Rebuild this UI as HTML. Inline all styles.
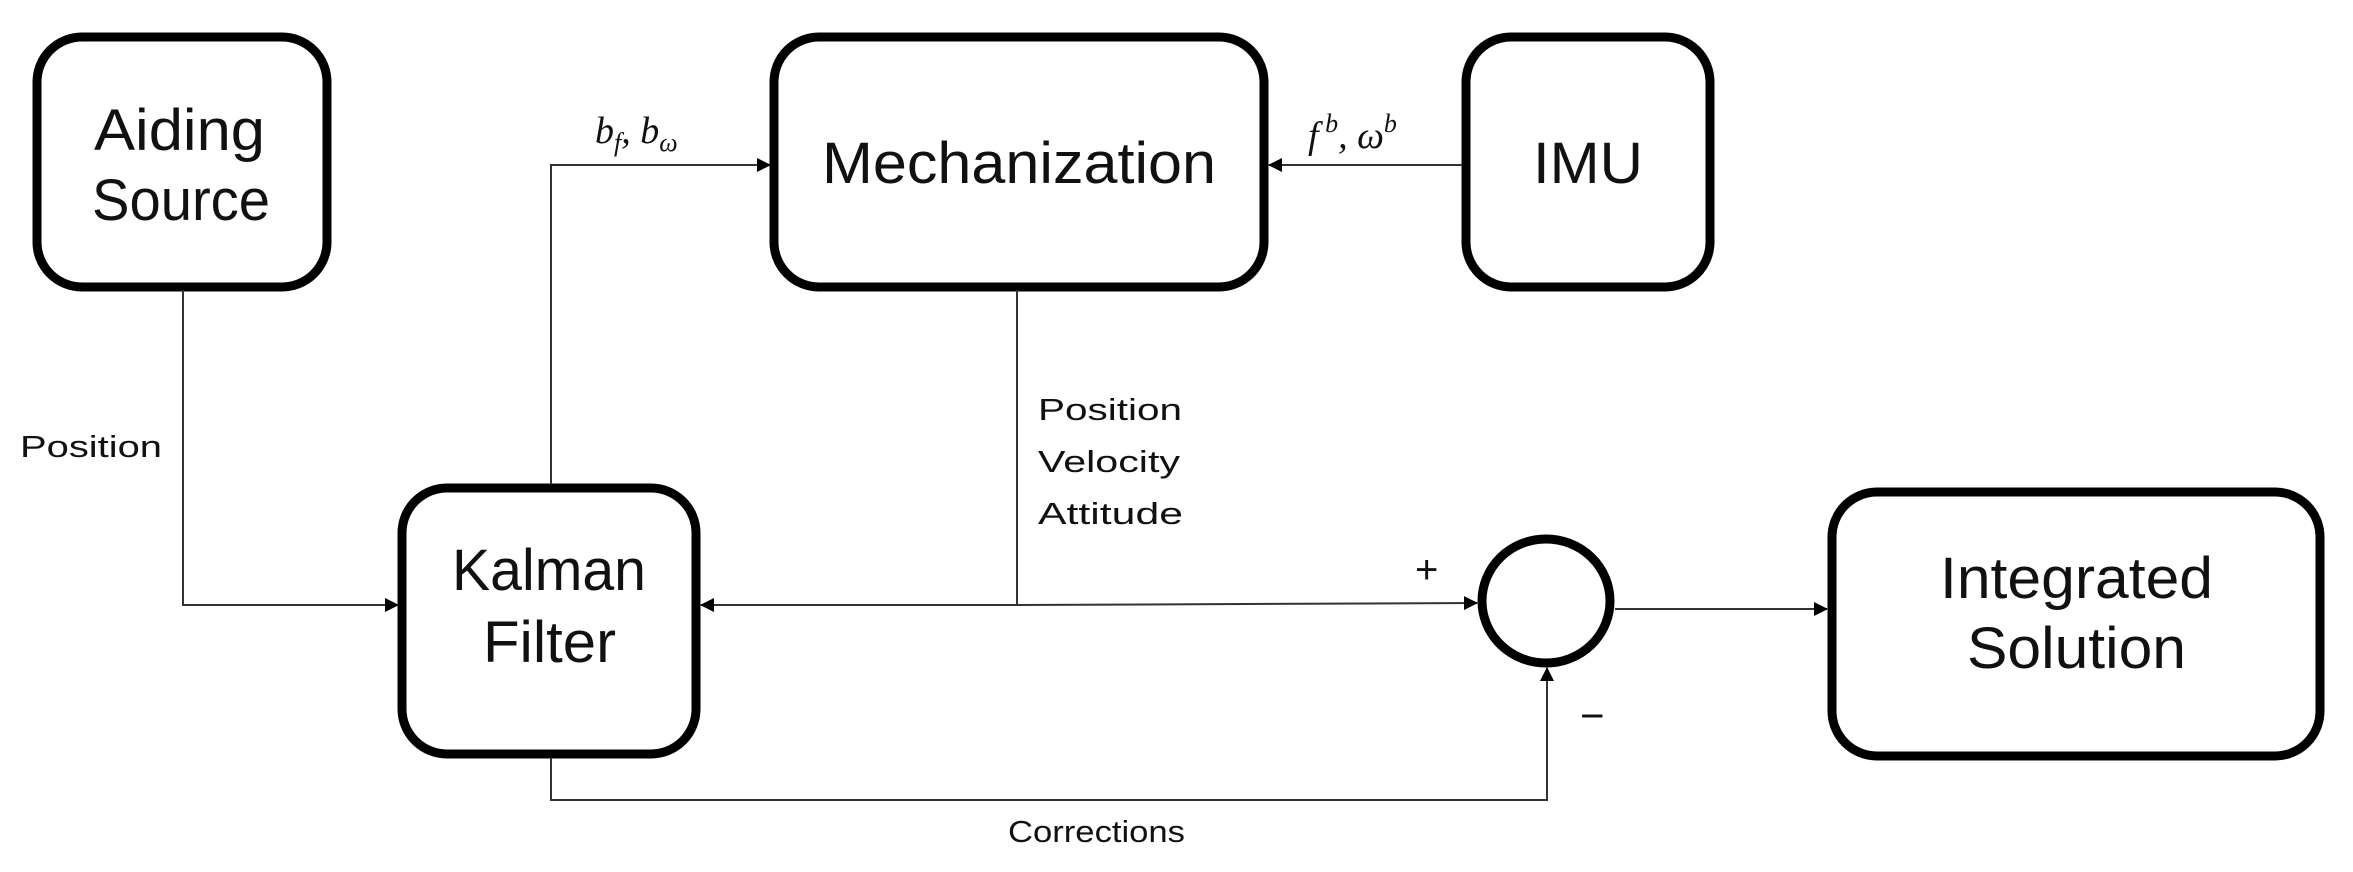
<!DOCTYPE html>
<html><head><meta charset="utf-8"><style>
html,body{margin:0;padding:0;background:#fff;}
svg{display:block;}
text{font-family:"Liberation Sans",sans-serif;fill:#111;}
.b{font-size:58px;}
.s{font-size:31px;}
.m{font-family:"Liberation Serif",serif;font-style:italic;font-size:38px;}
</style></head><body>
<svg width="2353" height="872" viewBox="0 0 2353 872" xmlns="http://www.w3.org/2000/svg">
<defs>
<marker id="a" markerWidth="14" markerHeight="14" refX="13" refY="7" orient="auto" markerUnits="userSpaceOnUse">
<path d="M0,0 L14,7 L0,14 z" fill="#000"/></marker>
</defs>
<g fill="none" stroke="#000" stroke-width="9">
<rect x="37" y="37" width="290" height="250" rx="45"/>
<rect x="774" y="37" width="490" height="250" rx="45"/>
<rect x="1466" y="37" width="244" height="250" rx="45"/>
<rect x="402" y="488" width="294" height="266" rx="45"/>
<rect x="1832" y="492" width="488" height="264" rx="45"/>
<ellipse cx="1546" cy="601" rx="64" ry="62"/>
</g>
<g fill="none" stroke="#333" stroke-width="2">
<polyline points="183,290 183,605 398,605" marker-end="url(#a)"/>
<polyline points="551,484 551,165 770,165" marker-end="url(#a)"/>
<line x1="1462" y1="165" x2="1269" y2="165" marker-end="url(#a)"/>
<line x1="1017" y1="290" x2="1017" y2="605"/>
<line x1="1017" y1="605" x2="701" y2="605" marker-end="url(#a)"/>
<line x1="1017" y1="605" x2="1477" y2="603" marker-end="url(#a)"/>
<line x1="1615" y1="609" x2="1827" y2="609" marker-end="url(#a)"/>
<polyline points="551,758 551,800 1547,800 1547,668" marker-end="url(#a)"/>
</g>
<text class="b" x="94" y="150" textLength="171" lengthAdjust="spacingAndGlyphs">Aiding</text>
<text class="b" x="92" y="220" textLength="178" lengthAdjust="spacingAndGlyphs">Source</text>
<text class="b" x="822" y="183" textLength="394" lengthAdjust="spacingAndGlyphs">Mechanization</text>
<text class="b" x="1533" y="183" textLength="110" lengthAdjust="spacingAndGlyphs">IMU</text>
<text class="b" x="452" y="590" textLength="194" lengthAdjust="spacingAndGlyphs">Kalman</text>
<text class="b" x="483" y="662" textLength="133" lengthAdjust="spacingAndGlyphs">Filter</text>
<text class="b" x="1940" y="598" textLength="273" lengthAdjust="spacingAndGlyphs">Integrated</text>
<text class="b" x="1967" y="668" textLength="219" lengthAdjust="spacingAndGlyphs">Solution</text>
<text class="s" x="20" y="457" textLength="142" lengthAdjust="spacingAndGlyphs">Position</text>
<text class="s" x="1038" y="420" textLength="144" lengthAdjust="spacingAndGlyphs">Position</text>
<text class="s" x="1038" y="472" textLength="142" lengthAdjust="spacingAndGlyphs">Velocity</text>
<text class="s" x="1038" y="524" textLength="145" lengthAdjust="spacingAndGlyphs">Attitude</text>
<text class="s" x="1008" y="842" textLength="177" lengthAdjust="spacingAndGlyphs">Corrections</text>
<text x="1415" y="583" style="font-size:40px">+</text>
<text x="1580" y="730" style="font-size:42px">−</text>
<text class="m" x="595" y="143">b<tspan font-size="26" dy="8">f</tspan><tspan dy="-8">, b</tspan><tspan font-size="26" dy="8">ω</tspan></text>
<text class="m" x="1308" y="148">f<tspan font-size="26" dy="-16"> b</tspan><tspan dy="16">, ω</tspan><tspan font-size="26" dy="-16">b</tspan></text>
</svg>
</body></html>
